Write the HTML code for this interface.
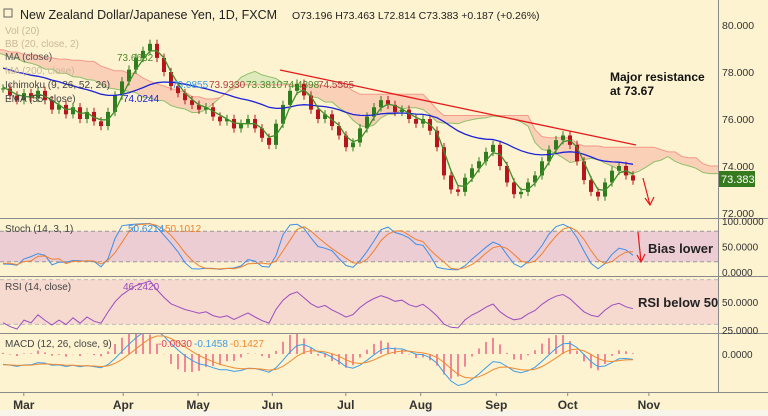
<!DOCTYPE html>
<html><head><meta charset="utf-8">
<style>
body{margin:0;background:#fdf3d0;font-family:"Liberation Sans",sans-serif;}
svg{display:block}
text{font-family:"Liberation Sans",sans-serif}
</style></head>
<body>
<svg id="c" width="768" height="416" xmlns="http://www.w3.org/2000/svg">
<rect x="0" y="0" width="768" height="416" fill="#fdf3d0"/>
<rect x="0" y="410" width="768" height="6" fill="#f7f4ea"/>
<g id="g"></g>
</svg>
<script>
const priorCloses=[79.6,79.4,79.5,79.2,79.3,79.0,78.9,79.1,78.7,78.8,78.5,78.6,78.3,78.4,78.1,78.2,77.9,78.0,77.8,77.6,77.7,77.5,77.6,77.4,77.5,77.3];
const closes=[77.3,77.0,76.8,77.1,76.9,77.2,76.8,76.4,76.6,76.2,76.5,76.0,76.3,75.9,75.7,76.3,77.0,77.6,78.1,78.6,78.9,79.2,78.6,78.0,77.4,77.1,76.8,76.6,76.4,76.5,76.1,75.9,76.0,75.6,75.8,76.0,75.6,75.2,74.9,75.8,76.6,77.2,77.5,77.0,76.4,76.0,76.2,75.7,75.3,74.8,75.0,75.6,76.1,76.5,76.8,76.6,76.3,76.4,76.0,75.8,76.0,75.5,74.8,73.6,73.0,72.9,73.5,73.9,74.2,74.6,74.9,74.0,73.3,72.8,72.9,73.3,73.6,74.2,74.7,75.1,75.3,74.9,74.2,73.4,72.9,72.7,73.3,73.8,74.0,73.6,73.383];
const priceTicks=[80,78,76,74,72];
const stochTicks=[100,50,0];
const rsiTicks=[50,25];
const monthLabels=["Mar","Apr","May","Jun","Jul","Aug","Sep","Oct","Nov"];
const monthBars=[3.4,17.6,28.3,38.9,49.4,60.1,70.9,81.1,92.7];

const NS="http://www.w3.org/2000/svg";
const G=document.getElementById('g');
function el(tag,attrs,parent){const e=document.createElementNS(NS,tag);for(const k in attrs)e.setAttribute(k,attrs[k]);(parent||G).appendChild(e);return e;}
const P=priorCloses.length;
const all=priorCloses.concat(closes);
const xb=i=>3+7*i;
const yP=p=>25+(80-p)*23.5;
const yS=v=>272-v*0.51;
const yR=v=>302-(v-50)*1.12;
const yM=v=>354-v*38;
const hi=all.map((c,i)=>Math.max(c,i?all[i-1]:c)+0.18);
const lo=all.map((c,i)=>Math.min(c,i?all[i-1]:c)-0.18);
function ema(arr,n,seed){const k=2/(n+1);let e=seed!==undefined?seed:arr[0];return arr.map(v=>e=v*k+e*(1-k));}
function sma(arr,n){return arr.map((v,i)=>{const s=arr.slice(Math.max(0,i-n+1),i+1);return s.reduce((a,b)=>a+b,0)/s.length;});}
function mid(i,n){let h=-1e9,l=1e9;for(let j=Math.max(0,i-n+1);j<=i;j++){h=Math.max(h,hi[j]);l=Math.min(l,lo[j]);}return (h+l)/2;}
function line(pts,color,w,name){const d=pts.map((p,i)=>(i?'L':'M')+p[0].toFixed(1)+','+p[1].toFixed(1)).join('');const e=el('path',{d:d,fill:'none',stroke:color,'stroke-width':w});return e;}

const defs=el('defs',{});
[['cm',0,0,718,218],['cs',0,219,718,57],['cr',0,277,718,56],['cmd',0,334,718,58]].forEach(c=>{const cp=el('clipPath',{id:c[0]},defs);el('rect',{x:c[1],y:c[2],width:c[3],height:c[4]},cp);});

const main=el('g',{'clip-path':'url(#cm)'});

const spanA=[],spanB=[];
for(let j=0;j<all.length;j++){const t=mid(j,5),k=mid(j,13);spanA.push([xb(j-P+13),yP((t+k)/2)]);spanB.push([xb(j-P+13),yP(mid(j,26))]);}
for(let j=1;j<spanA.length;j++){
  const a0=spanA[j-1],a1=spanA[j],b0=spanB[j-1],b1=spanB[j];
  const green=(a1[1]<b1[1]);
  const pg=el('polygon',{points:`${a0[0]},${a0[1]} ${a1[0]},${a1[1]} ${b1[0]},${b1[1]} ${b0[0]},${b0[1]}`,fill:green?'#d8e8b8':'#f9c9b3','fill-opacity':0.85},main);
  
}
main.appendChild(line(spanA,'#8fbf6a',1,'senkou-span-a'));
main.appendChild(line(spanB,'#f49a8a',1,'senkou-span-b'));

closes.forEach((c,i)=>{const j=i+P;const o=all[j-1];const up=c>=o;const col=up?'#2f7d1e':'#b8141c';
  const g=el('g',{},main);
  el('line',{x1:xb(i),x2:xb(i),y1:yP(hi[j]),y2:yP(lo[j]),stroke:col,'stroke-width':1},g);
  const t=yP(Math.max(o,c)),b=yP(Math.min(o,c));
  el('rect',{x:xb(i)-2,y:t,width:4,height:Math.max(1,b-t),fill:col},g);
});
const e55=ema(all,28,79.3);
main.appendChild(line(e55.slice(P).map((v,i)=>[xb(i),yP(v)]),'#1c22d6',1.3,'ema-55-line'));
const s5=sma(all,3);
main.appendChild(line(s5.slice(P).map((v,i)=>[xb(i),yP(v)]),'#3f8f2a',1.3,'tenkan-line'));
const tl=el('line',{x1:280,y1:70,x2:636,y2:145,stroke:'#e81818','stroke-width':1.3});

const ar=el('path',{d:'M643,178 L650,205 M645,198 L650,205 L654,197',stroke:'#e81818',fill:'none','stroke-width':1.2});


const sp=el('g',{'clip-path':'url(#cs)'});
el('rect',{x:0,y:yS(80),width:718,height:yS(20)-yS(80),fill:'#e9c3d4','fill-opacity':0.8},sp);
[80,20].forEach(v=>el('line',{x1:0,x2:718,y1:yS(v),y2:yS(v),stroke:'#999','stroke-dasharray':'4,3'},sp));
const kraw=all.map((c,i)=>{let h=-1e9,l=1e9;for(let j=Math.max(0,i-9);j<=i;j++){h=Math.max(h,hi[j]);l=Math.min(l,lo[j]);}return (c-l)/(h-l)*100;});
const kS=sma(kraw,2),dS=sma(kraw,4);
sp.appendChild(line(kS.slice(P).map((v,i)=>[xb(i),yS(v)]),'#3d8ee8',1,'stoch-k-line'));
sp.appendChild(line(dS.slice(P).map((v,i)=>[xb(i),yS(v)]),'#f08030',1,'stoch-d-line'));
const ar2=el('path',{d:'M638,232 L641,262 M637,255 L641,262 L645,254',stroke:'#e81818',fill:'none','stroke-width':1.2});


const rp=el('g',{'clip-path':'url(#cr)'});
el('rect',{x:0,y:yR(70),width:718,height:yR(30)-yR(70),fill:'#f6d9cf'},rp);
[70,30].forEach(v=>el('line',{x1:0,x2:718,y1:yR(v),y2:yR(v),stroke:'#bbb','stroke-dasharray':'4,3'},rp));
let ag=0.15,al=0.15;const rsi=all.map((c,i)=>{if(i){const d=c-all[i-1];ag=(ag*13+Math.max(d,0))/14;al=(al*13+Math.max(-d,0))/14;}return 100-100/(1+ag/al);});
rp.appendChild(line(rsi.slice(P).map((v,i)=>[xb(i),yR(v)]),'#9b4dc0',1,'rsi-line'));

const mp=el('g',{'clip-path':'url(#cmd)'});
const ef=ema(all,6),es=ema(all,13);const macd=ef.map((v,i)=>v-es[i]);const sig=ema(macd,5);
macd.slice(P).forEach((v,i)=>{const h=v-sig[i+P];const r=el('rect',{x:xb(i)-0.8,y:Math.min(yM(0),yM(h*2)),width:1.6,height:Math.abs(yM(h*2)-yM(0)),fill:'#f06c8c'},mp);});
mp.appendChild(line(macd.slice(P).map((v,i)=>[xb(i),yM(v)]),'#3d9ee8',1,'macd-line'));
mp.appendChild(line(sig.slice(P).map((v,i)=>[xb(i),yM(v)]),'#f08a30',1,'signal-line'));

[218,276,333,392].forEach(y=>el('line',{x1:0,x2:768,y1:y+0.5,y2:y+0.5,stroke:'#8a8a8a'}));
el('line',{x1:718.5,x2:718.5,y1:0,y2:392,stroke:'#8a8a8a'});
function txt(x,y,s,attrs,name){const t=el('text',Object.assign({x:x,y:y,'font-size':10,fill:'#333'},attrs||{}));t.textContent=s;return t;}
priceTicks.forEach(v=>txt(722,yP(v)+4,v.toFixed(3),{'font-size':10.5},'price-tick'));
stochTicks.forEach(v=>txt(722,yS(v)+4,v.toFixed(4),{'font-size':10},'stoch-tick'));
rsiTicks.forEach(v=>txt(722,yR(v)+4,v.toFixed(4),{'font-size':10},'rsi-tick'));
txt(722,yM(0)+4,'0.0000',{'font-size':10},'macd-tick');
monthLabels.forEach((m,i)=>{const x=3+7*monthBars[i]-3;el('line',{x1:x,x2:x,y1:392,y2:396,stroke:'#8a8a8a'});txt(x,409,m,{'text-anchor':'middle','font-weight':'bold','font-size':12},'month-label');});
const pl=el('rect',{x:719,y:171,width:36,height:16,fill:'#367a1e'});
txt(721,183,closes[closes.length-1].toFixed(3),{fill:'#fff','font-size':11},'last-price-label');

txt(20,19,'New Zealand Dollar/Japanese Yen, 1D, FXCM',{'font-size':12.5,fill:'#222'},'chart-title');
txt(292,19,'O73.196  H73.463  L72.814  C73.383  +0.187 (+0.26%)',{'font-size':10.5,fill:'#222','xml:space':'preserve'},'ohlc-readout');
el('rect',{x:4,y:9,width:8,height:8,fill:'none',stroke:'#666'});
txt(5,34,'Vol (20)',{fill:'#c9b89a'},'vol-legend');
txt(5,47,'BB (20, close, 2)',{fill:'#c9b89a'},'bb-legend');
txt(5,60,'MA (close)',{fill:'#555'},'ma-legend');txt(117,61,'73.6632',{fill:'#4a8a2a'},'ma-value');
txt(5,74,'MA (200, close)',{fill:'#c9b89a'},'ma200-legend');
txt(5,88,'Ichimoku (9, 26, 52, 26)',{fill:'#444'},'ichimoku-legend');
txt(172,88,'73.0855',{fill:'#3d9ee8'},'ichi-v1');txt(209,88,'73.9330',{fill:'#b04040'},'ichi-v2');txt(246,88,'73.3810',{fill:'#4a8a2a'},'ichi-v3');txt(283,88,'74.4398',{fill:'#4a8a2a'},'ichi-v4');txt(318,88,'74.5565',{fill:'#b04040'},'ichi-v5');
txt(5,102,'EMA (55, close)',{fill:'#444'},'ema-legend');txt(123,102,'74.0244',{fill:'#1c22d6'},'ema-value');
txt(5,232,'Stoch (14, 3, 1)',{fill:'#444'},'stoch-legend');txt(128,232,'50.6214',{fill:'#3d8ee8'},'stoch-k-value');txt(165,232,'50.1012',{fill:'#f08030'},'stoch-d-value');
txt(5,290,'RSI (14, close)',{fill:'#444'},'rsi-legend');txt(123,290,'46.2420',{fill:'#9b4dc0'},'rsi-value');
txt(5,347,'MACD (12, 26, close, 9)',{fill:'#444'},'macd-legend');txt(158,347,'-0.0030',{fill:'#e04060'},'macd-hist-value');txt(194,347,'-0.1458',{fill:'#3d9ee8'},'macd-value');txt(230,347,'-0.1427',{fill:'#f08a30'},'macd-signal-value');
txt(610,81,'Major resistance',{'font-size':12,'font-weight':'bold',fill:'#111'},'annotation-resistance');
txt(610,95,'at 73.67',{'font-size':12,'font-weight':'bold',fill:'#111'},'annotation-resistance-2');
txt(648,253,'Bias lower',{'font-size':13,'font-weight':'bold',fill:'#222'},'annotation-bias');
txt(638,307,'RSI below 50',{'font-size':13,'font-weight':'bold',fill:'#222'},'annotation-rsi');
</script>
</body></html>
